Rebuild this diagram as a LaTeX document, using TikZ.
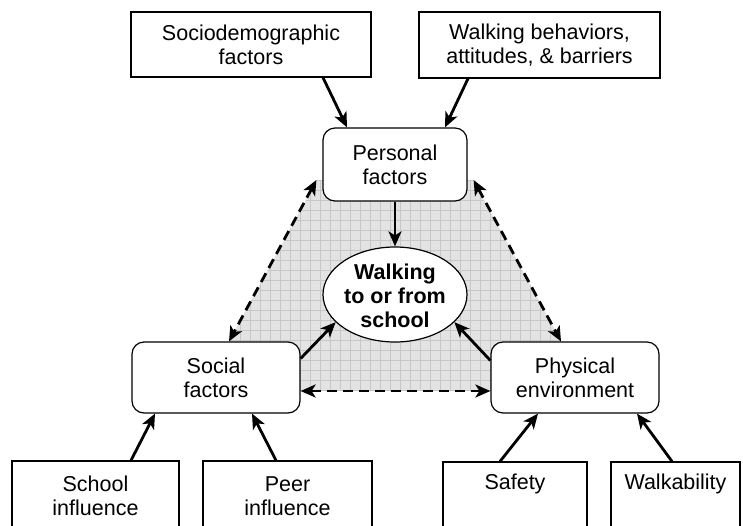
\documentclass[tikz,border=0pt]{standalone}
\usepackage{fontspec}
\setmainfont{Liberation Sans}
\usetikzlibrary{arrows.meta,shapes.geometric,calc}
\tikzset{
  txt/.style={font=\fontsize{21.5}{24}\selectfont, align=center, inner sep=0pt},
  sqbox/.style={txt, draw=black, line width=1.2pt, fill=white},
  rbox/.style={sqbox, rounded corners=12pt},
  arr/.style={line width=2.8pt, -{Stealth[length=15pt,width=13pt,inset=4pt]}},
  darr/.style={line width=2.8pt, dash pattern=on 10pt off 6pt, {Stealth[length=15pt,width=13pt,inset=4pt]}-{Stealth[length=15pt,width=13pt,inset=4pt]}},
}
\begin{document}
\begin{tikzpicture}[x=1pt,y=-1pt]
\useasboundingbox (0,0) rectangle (743,525);
\clip (0,0) rectangle (743,525);
% shaded gridded area
\begin{scope}
\clip (317,180) -- (473,180) -- (561,341) -- (561,391) -- (230,391) -- (229,341) -- cycle;
\fill[black!11] (200,170) rectangle (580,400);
\draw[black!22, line width=0.7pt] (200,170) grid[step=10pt] (580,400);
\end{scope}
% nodes
\node[sqbox, minimum width=240pt, minimum height=65pt] (socio) at (251,44.5) {Sociodemographic\\factors};
\node[sqbox, minimum width=241pt, minimum height=66pt] (walkb) at (539.5,45) {Walking behaviors,\\attitudes, \& barriers};
\node[rbox, minimum width=144pt, minimum height=73pt] (personal) at (395,164.5) {Personal\\factors};
\node[draw=black, line width=1.2pt, fill=white, ellipse, minimum width=144pt, minimum height=95pt, inner sep=0pt] (walk) at (395,294.5) {};
\node[txt, font=\fontsize{21.5}{24}\selectfont\bfseries] (walktext) at (395,296) {Walking\\to or from\\school};
\node[rbox, minimum width=168pt, minimum height=71pt] (social) at (216,377.5) {Social\\factors};
\node[rbox, minimum width=168pt, minimum height=71pt] (physical) at (575,377.5) {Physical\\environment};
\node[sqbox, minimum width=167pt, minimum height=70pt] (school) at (95.5,496) {School\\influence};
\node[sqbox, minimum width=169pt, minimum height=70pt] (peer) at (287.5,496) {Peer\\influence};
\node[sqbox, minimum width=144pt, minimum height=70pt] (safety) at (515,497) {Safety\\\strut};
\node[sqbox, minimum width=129pt, minimum height=70pt] (walkab) at (675.5,497) {Walkability\\\strut};
% connectors
\draw[arr] ([xshift=72pt]socio.south) -- ([xshift=-48pt]personal.north);
\draw[arr] ([xshift=-71.5pt]walkb.south) -- ([xshift=50pt]personal.north);
\draw[arr] (personal.south) -- (walk.north);
\draw[arr] ([yshift=19pt]social.east) -- (walk.205);
\draw[arr] ([yshift=17pt]physical.west) -- (walk.335);
\draw[darr] ([xshift=-6pt,yshift=-15.5pt]personal.west) -- ([xshift=13pt]social.north);
\draw[darr] ([xshift=6pt,yshift=-15.5pt]personal.east) -- ([xshift=-14pt]physical.north);
\draw[darr] ([yshift=-13.5pt]social.east) -- ([yshift=-13.5pt]physical.west);
\draw[arr] ([xshift=35.5pt]school.north) -- ([xshift=-61pt]social.south);
\draw[arr] ([xshift=-11.5pt]peer.north) -- ([xshift=36pt]social.south);
\draw[arr] ([xshift=-15pt]safety.north) -- ([xshift=-37pt]physical.south);
\draw[arr] ([xshift=-3.5pt]walkab.north) -- ([xshift=62pt]physical.south);
\end{tikzpicture}
\end{document}
